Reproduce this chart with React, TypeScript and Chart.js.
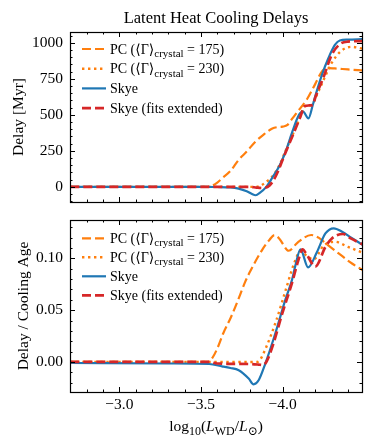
import React, { useEffect, useRef } from 'react';
import { Chart, registerables } from 'chart.js';

Chart.register(...registerables);

// ---------------- data ----------------
const xTicks = [-3.0, -3.5, -4.0];
const delayTicks = [0, 250, 500, 750, 1000];
const ratioTicks = [0, 0.05, 0.1];

// Top panel: Delay [Myr]
const pc175DelayX = [-2.7, -3.54, -3.57, -3.6, -3.63, -3.68, -3.731, -3.78, -3.834, -3.88, -3.937, -3.97, -4.0, -4.03, -4.06, -4.09, -4.15, -4.2, -4.24, -4.27, -4.32, -4.4, -4.49];
const pc175DelayY = [0, 0, 10, 30, 60, 110, 188, 245, 315, 360, 405, 415, 418, 430, 475, 520, 610, 715, 800, 825, 822, 815, 808];

const pc230DelayX = [-2.7, -3.83, -3.86, -3.9, -3.937, -3.98, -4.016, -4.068, -4.109, -4.13, -4.15, -4.18, -4.2, -4.25, -4.3, -4.36, -4.42, -4.49];
const pc230DelayY = [0, 0, 5, 35, 72, 150, 245, 380, 490, 555, 565, 570, 615, 740, 860, 945, 972, 960];

const skyeDelayX = [-2.7, -3.5, -3.6, -3.68, -3.73, -3.78, -3.81, -3.835, -3.86, -3.9, -3.94, -3.98, -4.02, -4.06, -4.1, -4.125, -4.158, -4.185, -4.2, -4.24, -4.28, -4.32, -4.35, -4.4, -4.49];
const skyeDelayY = [0, 0, -1, -4, -12, -30, -48, -58, -42, 0, 70, 145, 250, 385, 500, 522, 475, 570, 630, 776, 893, 985, 1016, 1022, 1025];

const skyeExtDelayX = [-2.7, -3.8, -3.84, -3.88, -3.92, -3.957, -4.016, -4.068, -4.109, -4.135, -4.16, -4.185, -4.2, -4.25, -4.3, -4.35, -4.4, -4.49];
const skyeExtDelayY = [0, 0, -5, -8, 10, 72, 234, 373, 488, 560, 565, 568, 620, 760, 915, 990, 1008, 1012];

// Bottom panel: Delay / Cooling Age
const pc175RatioX = [-2.7, -3.54, -3.57, -3.6, -3.636, -3.68, -3.719, -3.77, -3.8, -3.874, -3.92, -3.95, -3.98, -4.037, -4.09, -4.175, -4.22, -4.26, -4.343, -4.425, -4.49];
const pc175RatioY = [0, 0, 0.004, 0.013, 0.0275, 0.042, 0.0565, 0.077, 0.087, 0.108, 0.118, 0.1225, 0.119, 0.1073, 0.115, 0.1225, 0.12, 0.115, 0.1048, 0.095, 0.0887];

const pc230RatioX = [-2.7, -3.84, -3.86, -3.9, -3.961, -4.02, -4.07, -4.11, -4.15, -4.19, -4.25, -4.32, -4.4, -4.49];
const pc230RatioY = [0, 0, 0.0016, 0.0145, 0.04, 0.07, 0.095, 0.107, 0.102, 0.099, 0.112, 0.116, 0.111, 0.1055];

const skyeRatioX = [-2.7, -3.3, -3.55, -3.629, -3.68, -3.731, -3.792, -3.822, -3.853, -3.894, -3.955, -4.016, -4.057, -4.078, -4.109, -4.156, -4.211, -4.262, -4.313, -4.364, -4.42, -4.49];
const skyeRatioY = [-0.001, -0.0015, -0.002, -0.0042, -0.0058, -0.008, -0.016, -0.0216, -0.0177, -0.0016, 0.0275, 0.0597, 0.079, 0.093, 0.1087, 0.0913, 0.1064, 0.124, 0.129, 0.1257, 0.12, 0.1129];

const skyeExtRatioX = [-2.7, -3.55, -3.6, -3.8, -3.85, -3.88, -3.9, -3.937, -3.998, -4.057, -4.096, -4.122, -4.15, -4.2, -4.262, -4.3, -4.37, -4.42, -4.49];
const skyeExtRatioY = [0, 0, -0.0015, -0.002, -0.0025, -0.003, 0.0, 0.0145, 0.047, 0.076, 0.098, 0.1087, 0.103, 0.092, 0.111, 0.119, 0.1235, 0.119, 0.1135];

// ---------------- styles ----------------
const ORANGE = '#ff7f0e';
const BLUE = '#1f77b4';
const RED = '#d62728';
const FONT = '"Liberation Serif", "DejaVu Serif", serif';
const X_MIN = -4.486;
const X_MAX = -2.698;

type Seg = { t: string; sub?: boolean; it?: boolean };

const legendItems: { color: string; dash: number[]; width: number; segs: Seg[] }[] = [
  { color: ORANGE, dash: [9, 4], width: 2.2, segs: [{ t: 'PC (⟨Γ⟩' }, { t: 'crystal', sub: true }, { t: ' = 175)' }] },
  { color: ORANGE, dash: [2.4, 3.6], width: 2.4, segs: [{ t: 'PC (⟨Γ⟩' }, { t: 'crystal', sub: true }, { t: ' = 230)' }] },
  { color: BLUE, dash: [], width: 2.2, segs: [{ t: 'Skye' }] },
  { color: RED, dash: [9, 4], width: 2.7, segs: [{ t: 'Skye (fits extended)' }] },
];

function segFont(s: Seg, size: number) {
  const sz = s.sub ? Math.round(size * 0.78) : size;
  return `${s.it ? 'italic ' : ''}${sz}px ${FONT}`;
}

function drawRich(ctx: CanvasRenderingContext2D, segs: Seg[], x: number, y: number, size: number, align: 'left' | 'center') {
  ctx.save();
  ctx.fillStyle = '#000';
  ctx.textBaseline = 'alphabetic';
  ctx.textAlign = 'left';
  let w = 0;
  const widths = segs.map((s) => {
    ctx.font = segFont(s, size);
    const m = ctx.measureText(s.t).width;
    w += m;
    return m;
  });
  let cx = align === 'center' ? x - w / 2 : x;
  segs.forEach((s, i) => {
    ctx.font = segFont(s, size);
    ctx.fillText(s.t, cx, y + (s.sub ? size * 0.25 : 0));
    cx += widths[i];
  });
  ctx.restore();
}

function pts(xs: number[], ys: number[]) {
  return xs.map((x, i) => ({ x, y: ys[i] }));
}

function makeDatasets(series: { xs: number[]; ys: number[] }[]) {
  // series order: pc175, pc230, skye, skyeExt
  return series.map((s, i) => ({
    data: pts(s.xs, s.ys),
    borderColor: legendItems[i].color,
    borderWidth: legendItems[i].width,
    borderDash: legendItems[i].dash,
    borderCapStyle: 'butt',
    order: 3 - i,
    pointRadius: 0,
    fill: false,
    cubicInterpolationMode: 'monotone',
  }));
}

function decorPlugin(cfg: {
  yMinorStep: number;
  yMin: number;
  yMax: number;
  yMajors: number[];
  legendTop: number;
  legendStep: number;
  title?: string;
  yTitle: string;
  yTitleX: number;
  xTitle?: boolean;
}) {
  return {
    id: 'decor',
    afterDraw(chart: any) {
      const ctx: CanvasRenderingContext2D = chart.ctx;
      const { left, right, top, bottom } = chart.chartArea;
      const xs = chart.scales.x;
      const ys = chart.scales.y;
      ctx.save();
      ctx.strokeStyle = '#000';
      ctx.lineWidth = 1;
      ctx.setLineDash([]);
      const drawX = (v: number, len: number) => {
        const p = Math.round(xs.getPixelForValue(v)) + 0.5;
        ctx.beginPath();
        ctx.moveTo(p, bottom);
        ctx.lineTo(p, bottom - len);
        ctx.moveTo(p, top);
        ctx.lineTo(p, top + len);
        ctx.stroke();
      };
      for (let k = 27; k <= 44; k++) {
        const v = -k / 10;
        const major = xTicks.some((t) => Math.abs(t - v) < 1e-6);
        drawX(v, major ? 5 : 2.5);
      }
      const drawY = (v: number, len: number) => {
        const p = Math.round(ys.getPixelForValue(v)) + 0.5;
        ctx.beginPath();
        ctx.moveTo(left, p);
        ctx.lineTo(left + len, p);
        ctx.moveTo(right, p);
        ctx.lineTo(right - len, p);
        ctx.stroke();
      };
      const start = Math.ceil(cfg.yMin / cfg.yMinorStep);
      const end = Math.floor(cfg.yMax / cfg.yMinorStep);
      for (let k = start; k <= end; k++) {
        const v = k * cfg.yMinorStep;
        const major = cfg.yMajors.some((t) => Math.abs(t - v) < cfg.yMinorStep * 0.01);
        drawY(v, major ? 5 : 2.5);
      }
      ctx.lineWidth = 1.2;
      ctx.strokeRect(Math.round(left) + 0.5, Math.round(top) + 0.5, Math.round(right - left), Math.round(bottom - top));

      legendItems.forEach((it, i) => {
        const cy = cfg.legendTop + i * cfg.legendStep;
        ctx.save();
        ctx.strokeStyle = it.color;
        ctx.lineWidth = it.width;
        ctx.setLineDash(it.dash);
        ctx.lineCap = 'butt';
        ctx.beginPath();
        ctx.moveTo(82, cy);
        ctx.lineTo(106, cy);
        ctx.stroke();
        ctx.restore();
        drawRich(ctx, it.segs, 110, cy + 4.5, 14, 'left');
      });

      if (cfg.title) {
        drawRich(ctx, [{ t: cfg.title }], (left + right) / 2, 23, 16.5, 'center');
      }
      ctx.save();
      ctx.translate(cfg.yTitleX, (top + bottom) / 2);
      ctx.rotate(-Math.PI / 2);
      drawRich(ctx, [{ t: cfg.yTitle }], 0, 5, 15.5, 'center');
      ctx.restore();
      if (cfg.xTitle) {
        drawRich(
          ctx,
          [
            { t: 'log' },
            { t: '10', sub: true },
            { t: '(' },
            { t: 'L', it: true },
            { t: 'WD', sub: true },
            { t: '/' },
            { t: 'L', it: true },
            { t: '⊙', sub: true },
            { t: ')' },
          ],
          (left + right) / 2,
          219,
          15.5,
          'center'
        );
      }
      ctx.restore();
    },
  };
}

const tickFont = { family: FONT, size: 15.5 };

const fitY = (s: any) => {
  s.width = 70;
  s.paddingTop = 0;
  s.paddingBottom = 0;
  s.paddingLeft = 0;
  s.paddingRight = 0;
};

export default function App() {
  const topRef = useRef<HTMLCanvasElement | null>(null);
  const botRef = useRef<HTMLCanvasElement | null>(null);

  useEffect(() => {
    const topChart = new Chart(topRef.current as HTMLCanvasElement, {
      type: 'line',
      data: {
        datasets: makeDatasets([
          { xs: pc175DelayX, ys: pc175DelayY },
          { xs: pc230DelayX, ys: pc230DelayY },
          { xs: skyeDelayX, ys: skyeDelayY },
          { xs: skyeExtDelayX, ys: skyeExtDelayY },
        ]) as any,
      },
      options: {
        animation: false,
        responsive: false,
        devicePixelRatio: 1,
        layout: { padding: { top: 32, right: 12, bottom: 10, left: 0 } },
        plugins: { legend: { display: false }, tooltip: { enabled: false }, title: { display: false } },
        scales: {
          x: { type: 'linear', reverse: true, min: X_MIN, max: X_MAX, display: false },
          y: {
            type: 'linear',
            min: -105,
            max: 1075,
            afterFit: fitY,
            afterBuildTicks: (s: any) => {
              s.ticks = delayTicks.map((v) => ({ value: v }));
            },
            ticks: { font: tickFont, color: '#000', padding: 7, callback: (v: any) => String(v) },
            grid: { display: false, drawTicks: false },
            border: { display: false },
          },
        },
      } as any,
      plugins: [
        decorPlugin({
          yMinorStep: 50,
          yMin: -105,
          yMax: 1075,
          yMajors: delayTicks,
          legendTop: 49,
          legendStep: 19.7,
          title: 'Latent Heat Cooling Delays',
          yTitle: 'Delay [Myr]',
          yTitleX: 18,
        }),
      ],
    });

    const botChart = new Chart(botRef.current as HTMLCanvasElement, {
      type: 'line',
      data: {
        datasets: makeDatasets([
          { xs: pc175RatioX, ys: pc175RatioY },
          { xs: pc230RatioX, ys: pc230RatioY },
          { xs: skyeRatioX, ys: skyeRatioY },
          { xs: skyeExtRatioX, ys: skyeExtRatioY },
        ]) as any,
      },
      options: {
        animation: false,
        responsive: false,
        devicePixelRatio: 1,
        layout: { padding: { top: 8, right: 12, bottom: 0, left: 0 } },
        plugins: { legend: { display: false }, tooltip: { enabled: false }, title: { display: false } },
        scales: {
          x: {
            type: 'linear',
            reverse: true,
            min: X_MIN,
            max: X_MAX,
            afterFit: (s: any) => {
              s.height = 53;
              s.paddingTop = 0;
              s.paddingBottom = 0;
              s.paddingLeft = 0;
              s.paddingRight = 0;
            },
            afterBuildTicks: (s: any) => {
              s.ticks = xTicks.map((v) => ({ value: v }));
            },
            ticks: {
              font: tickFont,
              color: '#000',
              padding: 4,
              autoSkip: false,
              maxRotation: 0,
              callback: (v: any) => (v < 0 ? '−' : '') + Math.abs(v).toFixed(1),
            },
            grid: { display: false, drawTicks: false },
            border: { display: false },
          },
          y: {
            type: 'linear',
            min: -0.029,
            max: 0.137,
            afterFit: fitY,
            afterBuildTicks: (s: any) => {
              s.ticks = ratioTicks.map((v) => ({ value: v }));
            },
            ticks: { font: tickFont, color: '#000', padding: 7, callback: (v: any) => Number(v).toFixed(2) },
            grid: { display: false, drawTicks: false },
            border: { display: false },
          },
        },
      } as any,
      plugins: [
        decorPlugin({
          yMinorStep: 0.01,
          yMin: -0.029,
          yMax: 0.137,
          yMajors: ratioTicks,
          legendTop: 26.3,
          legendStep: 19,
          yTitle: 'Delay / Cooling Age',
          yTitleX: 23,
          xTitle: true,
        }),
      ],
    });

    return () => {
      topChart.destroy();
      botChart.destroy();
    };
  }, []);

  return (
    <div style={{ position: 'absolute', left: 0, top: 0, width: 374, height: 445, background: '#fff' }}>
      <canvas ref={topRef} width={374} height={212} style={{ display: 'block', width: 374, height: 212 }} />
      <canvas ref={botRef} width={374} height={233} style={{ display: 'block', width: 374, height: 233 }} />
    </div>
  );
}
